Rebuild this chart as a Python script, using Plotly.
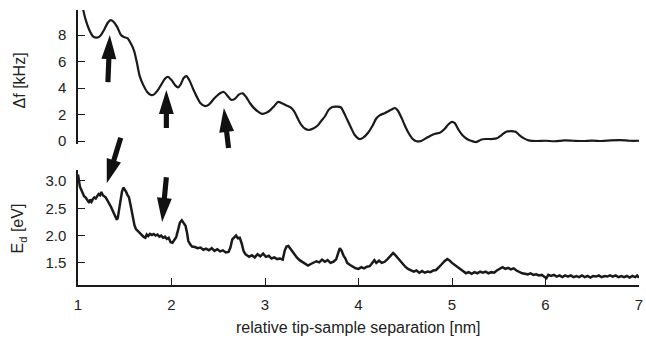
import plotly.graph_objects as go
from plotly.subplots import make_subplots

# ---- data: frequency shift (top panel) ----
df_x = [1.04, 1.08, 1.12, 1.16, 1.20, 1.24, 1.28, 1.32, 1.35, 1.38, 1.42, 1.46, 1.49, 1.53, 1.57,
        1.60, 1.63, 1.66, 1.70, 1.74, 1.78, 1.81, 1.85, 1.89, 1.93, 1.96, 2.00, 2.04, 2.07, 2.10,
        2.13, 2.16, 2.19, 2.23, 2.27, 2.31, 2.36, 2.40, 2.45, 2.50, 2.56, 2.60, 2.64, 2.68, 2.72,
        2.76, 2.80, 2.84, 2.88, 2.93, 2.97, 3.02, 3.06, 3.10, 3.14, 3.18, 3.23, 3.27, 3.31, 3.35,
        3.39, 3.43, 3.47, 3.51, 3.56, 3.60, 3.64, 3.68, 3.72, 3.77, 3.81, 3.84, 3.88, 3.92, 3.96,
        4.01, 4.05, 4.10, 4.15, 4.19, 4.23, 4.28, 4.32, 4.36, 4.39, 4.42, 4.46, 4.50, 4.54, 4.58,
        4.62, 4.67, 4.72, 4.77, 4.82, 4.87, 4.92, 4.96, 5.00, 5.03, 5.07, 5.11, 5.16, 5.21, 5.26,
        5.31, 5.36, 5.43, 5.48, 5.53, 5.58, 5.63, 5.68, 5.72, 5.77, 5.82, 5.90, 6.0, 6.1, 6.2,
        6.3, 6.4, 6.5, 6.6, 6.7, 6.8, 6.9, 7.0]
df_y = [10.4, 9.2, 8.4, 7.9, 7.8, 7.95, 8.4, 8.95, 9.13, 9.0, 8.6, 8.0, 7.85, 7.75, 7.3,
        6.8, 5.9, 4.9, 4.2, 3.7, 3.47, 3.5, 3.8, 4.25, 4.7, 4.85, 4.6, 4.2, 4.05, 4.3,
        4.75, 4.9, 4.6, 3.95, 3.35, 2.85, 2.64, 2.75, 3.15, 3.5, 3.7, 3.4, 3.1, 3.2, 3.5,
        3.6, 3.3, 2.85, 2.5, 2.2, 2.05, 2.15, 2.35, 2.65, 2.95, 2.85, 2.68, 2.55, 2.25, 1.7,
        1.2, 0.92, 0.83, 0.92, 1.15, 1.5, 1.85, 2.35, 2.57, 2.6, 2.55, 2.2, 1.6, 1.0, 0.45,
        0.15, 0.25, 0.6, 1.15, 1.7, 1.95, 2.1, 2.25, 2.4, 2.49, 2.3, 1.75, 1.1, 0.55, 0.15,
        -0.02, 0.0, 0.2, 0.4, 0.55, 0.62, 0.9, 1.25, 1.45, 1.35, 0.85, 0.45, 0.15, 0.0, -0.08,
        0.1, 0.15, 0.15, 0.2, 0.45, 0.7, 0.75, 0.7, 0.45, 0.2, 0.05, 0.0, 0.02, -0.02, 0.05,
        0.02, 0.0, 0.03, 0.0, 0.05, 0.07, 0.02, 0.02]

# ---- data: dissipated energy (bottom panel) ----
ed_x = [1.00, 1.01, 1.02, 1.035, 1.05, 1.065, 1.08, 1.095, 1.11, 1.12, 1.13, 1.145, 1.16, 1.175,
        1.19, 1.205, 1.22, 1.235, 1.25, 1.265, 1.28, 1.295, 1.31, 1.325, 1.34, 1.355, 1.37, 1.385,
        1.40, 1.415, 1.425, 1.44, 1.455, 1.47, 1.485, 1.50, 1.515, 1.53, 1.545, 1.56, 1.575, 1.59,
        1.605, 1.62, 1.64, 1.66, 1.68, 1.70, 1.72, 1.735, 1.75, 1.77, 1.79, 1.81, 1.83, 1.85, 1.87,
        1.89, 1.91, 1.93, 1.95, 1.97, 1.99, 2.01, 2.03, 2.05, 2.07, 2.09, 2.11, 2.13, 2.15, 2.165,
        2.18, 2.20, 2.22, 2.25, 2.28, 2.31, 2.34, 2.37, 2.40, 2.43, 2.46, 2.49, 2.52, 2.55, 2.58,
        2.61, 2.63, 2.65, 2.67, 2.69, 2.71, 2.73, 2.75, 2.77, 2.79, 2.81, 2.83, 2.86, 2.89, 2.92,
        2.95, 2.98, 3.01, 3.04, 3.07, 3.10, 3.13, 3.16, 3.19, 3.21, 3.23, 3.25, 3.27, 3.29, 3.31,
        3.34, 3.37, 3.40, 3.43, 3.46, 3.49, 3.52, 3.55, 3.58, 3.61, 3.64, 3.67, 3.70, 3.73, 3.76,
        3.78, 3.80, 3.82, 3.84, 3.86, 3.88, 3.91, 3.94, 3.97, 4.00, 4.03, 4.06, 4.09, 4.12, 4.15,
        4.17, 4.19, 4.22, 4.25, 4.28, 4.31, 4.34, 4.37, 4.39, 4.41, 4.44, 4.47, 4.50, 4.53, 4.56,
        4.59, 4.62, 4.65, 4.68, 4.71, 4.74, 4.77, 4.80, 4.83, 4.86, 4.89, 4.92, 4.95, 4.97, 5.00,
        5.03, 5.06, 5.09, 5.12, 5.15, 5.18, 5.21, 5.24, 5.27, 5.30, 5.33, 5.36, 5.39, 5.42, 5.45,
        5.48, 5.51, 5.54, 5.57, 5.60, 5.63, 5.66, 5.69, 5.72, 5.75, 5.78, 5.81, 5.84, 5.87, 5.90,
        5.93, 5.96, 5.99, 6.01, 6.03, 6.06, 6.09, 6.12, 6.15, 6.18, 6.21, 6.24, 6.27, 6.30, 6.33,
        6.36, 6.39, 6.42, 6.45, 6.48, 6.51, 6.54, 6.57, 6.60, 6.63, 6.66, 6.69, 6.72, 6.75, 6.78,
        6.81, 6.84, 6.87, 6.90, 6.93, 6.96, 6.98, 7.00]
ed_y = [3.12, 2.98, 2.90, 2.84, 2.78, 2.72, 2.70, 2.66, 2.64, 2.60, 2.66, 2.62, 2.67, 2.70,
        2.68, 2.73, 2.76, 2.74, 2.80, 2.74, 2.72, 2.70, 2.66, 2.62, 2.58, 2.52, 2.46, 2.40,
        2.33, 2.29, 2.32, 2.48, 2.66, 2.80, 2.88, 2.85, 2.80, 2.74, 2.70, 2.58, 2.44, 2.28,
        2.18, 2.12, 2.08, 2.04, 2.02, 1.98, 1.96, 2.02, 1.99, 2.03, 2.01, 2.03, 2.00, 2.02, 1.98,
        2.00, 1.96, 1.98, 1.94, 1.96, 1.88, 1.87, 1.92, 1.97, 2.10, 2.24, 2.28, 2.24, 2.18, 2.06,
        1.90, 1.84, 1.80, 1.79, 1.77, 1.78, 1.74, 1.76, 1.73, 1.77, 1.72, 1.75, 1.71, 1.73, 1.69,
        1.70, 1.78, 1.93, 1.96, 2.00, 1.95, 1.96, 1.86, 1.72, 1.66, 1.64, 1.61, 1.64, 1.60, 1.66,
        1.62, 1.67, 1.61, 1.63, 1.58, 1.60, 1.57, 1.58, 1.56, 1.72, 1.80, 1.81, 1.76, 1.71, 1.66,
        1.60, 1.55, 1.52, 1.48, 1.45, 1.48, 1.50, 1.53, 1.51, 1.56, 1.52, 1.55, 1.50, 1.52, 1.56,
        1.68, 1.77, 1.72, 1.63, 1.58, 1.50, 1.46, 1.43, 1.40, 1.39, 1.42, 1.40, 1.43, 1.44, 1.50,
        1.55, 1.50, 1.54, 1.50, 1.52, 1.57, 1.62, 1.68, 1.65, 1.61, 1.55, 1.48, 1.43, 1.39, 1.36,
        1.34, 1.36, 1.32, 1.35, 1.32, 1.34, 1.33, 1.36, 1.37, 1.42, 1.48, 1.53, 1.57, 1.55, 1.50,
        1.46, 1.42, 1.38, 1.34, 1.31, 1.33, 1.30, 1.33, 1.31, 1.34, 1.32, 1.34, 1.31, 1.33, 1.32,
        1.36, 1.39, 1.42, 1.39, 1.41, 1.38, 1.40, 1.36, 1.33, 1.31, 1.30, 1.29, 1.31, 1.28, 1.29,
        1.27, 1.28, 1.25, 1.22, 1.28, 1.26, 1.28, 1.25, 1.27, 1.24, 1.27, 1.25, 1.27, 1.24, 1.26,
        1.24, 1.27, 1.24, 1.26, 1.23, 1.26, 1.25, 1.27, 1.24, 1.26, 1.25, 1.27, 1.25, 1.27, 1.24,
        1.26, 1.24, 1.26, 1.23, 1.26, 1.24, 1.27, 1.23]

x_ticks = [1, 2, 3, 4, 5, 6, 7]
df_ticks = [0, 2, 4, 6, 8]
ed_ticks = [1.5, 2.0, 2.5, 3.0]
ed_ticklabels = ["1.5", "2.0", "2.5", "3.0"]

x_title = "relative tip-sample separation [nm]"
df_title = "Δf [kHz]"
ed_title = "E<sub>d</sub> [eV]"

# arrows: (panel, tip_x, tip_y, tail_x, tail_y) in data units of that panel
arrows = [
    ("top", 1.34, 8.0, 1.32, 4.45),
    ("top", 1.945, 3.85, 1.945, 0.98),
    ("top", 2.56, 2.49, 2.61, -0.53),
    ("bot", 1.308, 2.96, 1.457, 3.79),
    ("bot", 1.90, 2.25, 1.945, 3.07),
]

# ---- layout geometry ----
W, H = 646, 339
ML, MR, MT, MB = 78, 3, 10, 54
PW, PH = W - ML - MR, H - MT - MB
top_dom = [0.514, 1.0]
bot_dom = [0.0, 0.418]
x_rng = [1, 7]
top_rng = [-0.2, 9.89]
bot_rng = [1.095, 3.2]

FONT = "Liberation Sans, Arial, Helvetica, sans-serif"
TXT = "#222222"
LINE = "#1a1a1a"

fig = make_subplots(rows=2, cols=1, shared_xaxes=False, vertical_spacing=0.0)

fig.add_trace(go.Scatter(x=df_x, y=df_y, mode="lines", line=dict(color=LINE, width=2.2, shape="spline", smoothing=0.8),
                         showlegend=False, hoverinfo="skip"), row=1, col=1)
fig.add_trace(go.Scatter(x=ed_x, y=ed_y, mode="lines", line=dict(color=LINE, width=2.5),
                         showlegend=False, hoverinfo="skip"), row=2, col=1)


def to_px(panel, x, y):
    px = ML + (x - x_rng[0]) / (x_rng[1] - x_rng[0]) * PW
    dom, rng = (top_dom, top_rng) if panel == "top" else (bot_dom, bot_rng)
    y0 = MT + (1 - dom[1]) * PH
    y1 = MT + (1 - dom[0]) * PH
    py = y1 - (y - rng[0]) / (rng[1] - rng[0]) * (y1 - y0)
    return px, py


def to_paper(px, py):
    return (px - ML) / PW, (MT + PH - py) / PH


shapes = []
for panel, tx, ty, sx, sy in arrows:
    tpx, tpy = to_px(panel, tx, ty)
    spx, spy = to_px(panel, sx, sy)
    dx, dy = tpx - spx, tpy - spy
    ln = (dx * dx + dy * dy) ** 0.5
    ux, uy = dx / ln, dy / ln
    nx, ny = -uy, ux
    head_len, head_hw, shaft_hw = 24, 7.5, 2.6
    bx, by = tpx - ux * head_len, tpy - uy * head_len
    pts = [
        (spx + nx * shaft_hw, spy + ny * shaft_hw),
        (bx + nx * shaft_hw, by + ny * shaft_hw),
        (bx + nx * head_hw, by + ny * head_hw),
        (tpx, tpy),
        (bx - nx * head_hw, by - ny * head_hw),
        (bx - nx * shaft_hw, by - ny * shaft_hw),
        (spx - nx * shaft_hw, spy - ny * shaft_hw),
    ]
    pp = [to_paper(a, b) for a, b in pts]
    path = "M " + " L ".join(f"{a:.5f},{b:.5f}" for a, b in pp) + " Z"
    shapes.append(dict(type="path", xref="paper", yref="paper", path=path,
                       fillcolor="#111111", line=dict(width=0)))

axis_common = dict(showgrid=False, zeroline=False, showline=True, linecolor=LINE, linewidth=1.5,
                   ticks="inside", ticklen=7, tickwidth=1.3, tickcolor=LINE,
                   ticklabeloverflow="allow",
                   tickfont=dict(family=FONT, size=15, color=TXT))

title_font = dict(family=FONT, size=16, color=TXT)
annotations = [
    dict(text=df_title, xref="paper", yref="paper", x=(20 - ML) / PW, y=(MT + PH - 80) / PH,
         xanchor="center", yanchor="middle", textangle=-90, showarrow=False, font=title_font),
    dict(text=ed_title, xref="paper", yref="paper", x=(18 - ML) / PW, y=(MT + PH - 228) / PH,
         xanchor="center", yanchor="middle", textangle=-90, showarrow=False, font=title_font),
    dict(text=x_title, xref="paper", yref="paper", x=(360 - ML) / PW, y=(MT + PH - 327) / PH,
         xanchor="center", yanchor="middle", showarrow=False, font=title_font),
]

fig.update_layout(
    width=W, height=H,
    margin=dict(l=ML, r=MR, t=MT, b=MB),
    paper_bgcolor="white", plot_bgcolor="white",
    font=dict(family=FONT, size=15, color=TXT),
    shapes=shapes,
    annotations=annotations,
    xaxis=dict(domain=[0, 1], range=x_rng, visible=False, anchor="y"),
    yaxis=dict(domain=top_dom, range=top_rng, tickvals=df_ticks, anchor="x",
               ticklabelstandoff=7, **axis_common),
    xaxis2=dict(domain=[0, 1], range=x_rng, tickvals=x_ticks, anchor="y2",
                ticklabelstandoff=5, **axis_common),
    yaxis2=dict(domain=bot_dom, range=bot_rng, tickvals=ed_ticks, ticktext=ed_ticklabels, anchor="x2",
                ticklabelstandoff=7, **axis_common),
)

fig.write_html("out.html")
